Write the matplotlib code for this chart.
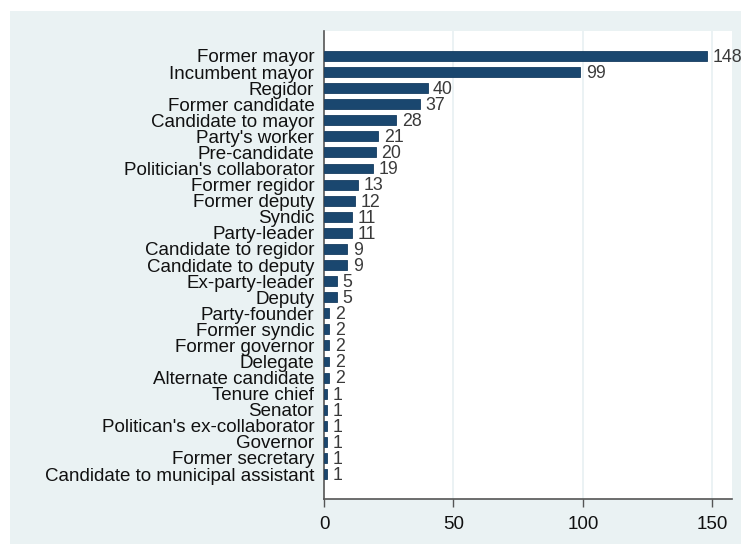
import matplotlib
matplotlib.use("Agg")
import matplotlib.pyplot as plt
from matplotlib.patches import Rectangle

categories = ["Former mayor", "Incumbent mayor", "Regidor", "Former candidate",
              "Candidate to mayor", "Party's worker", "Pre-candidate",
              "Politician's collaborator", "Former regidor", "Former deputy",
              "Syndic", "Party-leader", "Candidate to regidor", "Candidate to deputy",
              "Ex-party-leader", "Deputy", "Party-founder", "Former syndic",
              "Former governor", "Delegate", "Alternate candidate", "Tenure chief",
              "Senator", "Politican's ex-collaborator", "Governor", "Former secretary",
              "Candidate to municipal assistant"]
values = [148, 99, 40, 37, 28, 21, 20, 19, 13, 12, 11, 11, 9, 9, 5, 5,
          2, 2, 2, 2, 2, 1, 1, 1, 1, 1, 1]
xticks = [0, 50, 100, 150]

plt.rcParams['font.family'] = ['Liberation Sans', 'DejaVu Sans']
W, H = 741, 544
fig = plt.figure(figsize=(W / 100, H / 100), dpi=100, facecolor='white')
bg = Rectangle((10 / W, 0), 1 - 10 / W, (H - 11) / H, transform=fig.transFigure,
               facecolor='#eaf2f3', edgecolor='none', zorder=-10)
fig.patches.append(bg)

ax = fig.add_axes([324 / W, (H - 499) / H, (732 - 324) / W, (499 - 31) / H])
ax.set_zorder(1)
ax.set_facecolor('white')
ypos = list(range(len(categories)))
bars = ax.barh(ypos, values, height=0.62, color='#1a476f', edgecolor='#163d60',
               linewidth=0.6, zorder=3)
for y, v in zip(ypos, values):
    ax.annotate(str(v), (v, y), xytext=(4, -1), textcoords='offset points',
                va='center', ha='left', fontsize=12.8, color='#3a3a3a', zorder=4,
                annotation_clip=False)

ax.set_ylim(len(categories) - 1 + 1.55, -1.55)
ax.set_xlim(0, 157.6)
ax.set_yticks(ypos)
ax.set_yticklabels(categories, fontsize=13.5, color='#111111')
ax.tick_params(axis='y', length=0, pad=7)
ax.set_xticks(xticks)
ax.set_xticklabels([str(t) for t in xticks], fontsize=13.5, color='#111111')
ax.tick_params(axis='x', length=6, width=1, color='#555555', pad=6)
for x in xticks[1:]:
    ax.axvline(x, color='#e8f0f2', linewidth=1.2, zorder=1)
for s in ['top', 'right']:
    ax.spines[s].set_visible(False)
for s in ['left', 'bottom']:
    ax.spines[s].set_color('#555555')
    ax.spines[s].set_linewidth(1.2)

fig.savefig('out.png', dpi=100, facecolor=fig.get_facecolor())
